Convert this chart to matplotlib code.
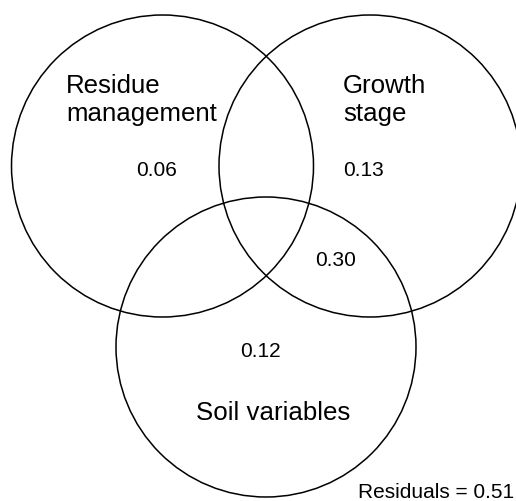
import matplotlib
matplotlib.use("Agg")
import matplotlib.pyplot as plt
from matplotlib.patches import Circle

# ---- data ----
set_labels = ["Residue\nmanagement", "Growth\nstage", "Soil variables"]
region_values = ["0.06", "0.13", "0.30", "0.12"]  # residue only, growth only, growth&soil, soil only
residual_value = 0.51

# ---- layout (pixel coordinates, y downward) ----
W, H = 516, 501
circle_centers = [(162.5, 166), (370, 166), (266, 347)]
circle_radius = [151, 151, 150]
label_pos = [(66, 121, "left"), (343, 121, "left"), (273, 420.5, "center")]
value_pos = [(156.5, 176.5), (363, 176.5), (335.5, 266.5), (260.5, 357)]

plt.rcParams["font.family"] = ["Liberation Sans", "DejaVu Sans"]
fig = plt.figure(figsize=(W / 100, H / 100), dpi=100)
ax = fig.add_axes([0, 0, 1, 1])
ax.set_xlim(0, W)
ax.set_ylim(H, 0)
ax.set_aspect("equal")
ax.axis("off")

for (cx, cy), r in zip(circle_centers, circle_radius):
    ax.add_patch(Circle((cx, cy), r, fill=False, edgecolor="black", linewidth=1.1))

for lab, (x, y, ha) in zip(set_labels, label_pos):
    ax.text(x, y, lab, ha=ha, va="baseline", fontsize=18.6, multialignment="left",
            linespacing=1.23)

for val, (x, y) in zip(region_values, value_pos):
    ax.text(x, y, val, ha="center", va="baseline", fontsize=15)

ax.text(514, 498, f"Residuals = {residual_value:.2f}", ha="right", va="baseline", fontsize=15)

fig.savefig("out.png", dpi=100)
